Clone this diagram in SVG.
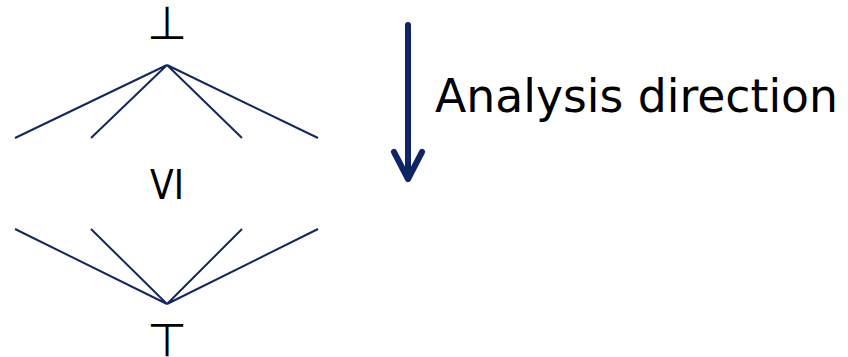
<svg xmlns="http://www.w3.org/2000/svg" width="848" height="357" viewBox="0 0 848 357">
<style>
.lbl{font-family:"DejaVu Sans",sans-serif;fill:#000;text-anchor:middle}
.edge{stroke:#14275f;stroke-width:2;fill:none}
.arr{stroke:#0f2462;stroke-width:6;fill:none;stroke-linecap:round;stroke-linejoin:round}
</style>
<rect width="848" height="357" fill="#fff"/>
<g id="bottom"><text class="lbl" x="167" y="39" font-size="46">⊥</text></g>
<g id="vi"><text class="lbl" x="167" y="199" font-size="40" textLength="34" lengthAdjust="spacingAndGlyphs">VI</text></g>
<g id="top"><text class="lbl" x="167" y="356" font-size="46">⊤</text></g>
<g id="connectors">
<path class="edge" d="M167 65L15 138M167 65L91 138M167 65L242 138M167 65L318 138"/>
<path class="edge" d="M167 304L15 229M167 304L91 229M167 304L242 229M167 304L318 229"/>
</g>
<g id="direction">
<path class="arr" d="M408 25V178M394 152L408 179L422 152"/>
<text x="435" y="112" font-family="DejaVu Sans,sans-serif" font-size="46" textLength="403" lengthAdjust="spacingAndGlyphs">Analysis direction</text>
</g>
</svg>
